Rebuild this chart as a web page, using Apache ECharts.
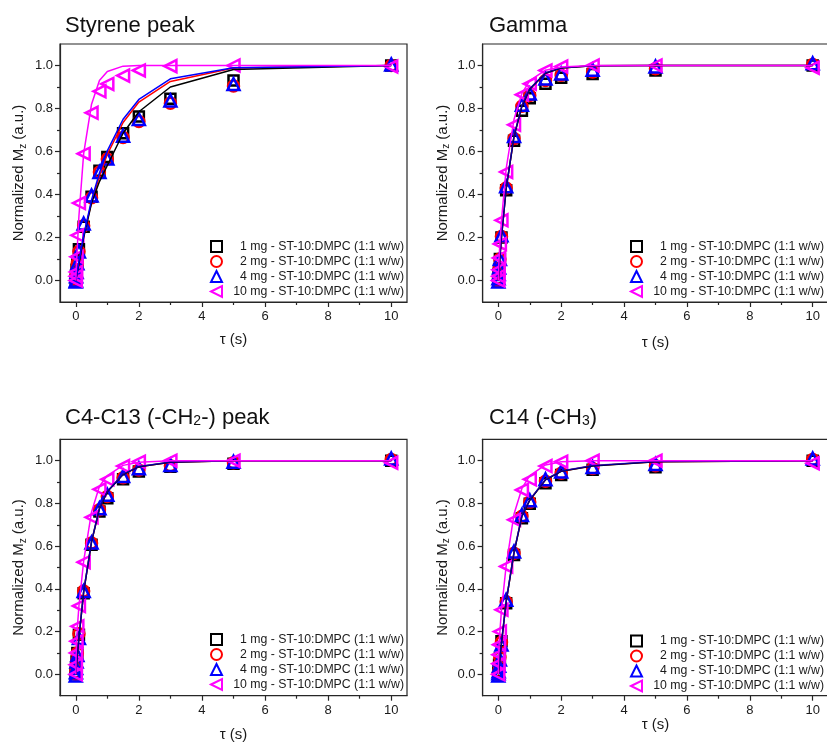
<!DOCTYPE html>
<html>
<head>
<meta charset="utf-8">
<script src="https://cdn.jsdelivr.net/npm/echarts@6/dist/echarts.min.js"></script>
<style>
  html, body { margin: 0; padding: 0; background: #ffffff; }
  #chart { width: 827px; height: 743px; }
</style>
</head>
<body>
<div id="chart"></div>
<script>
// Recovery delay times (s), shared by every sample
const times = [0, 0.005, 0.01, 0.025, 0.05, 0.1, 0.25, 0.5, 0.75, 1, 1.5, 2, 3, 5, 10];

// Legend labels for the four samples
const sampleNames = [
  '1 mg - ST-10:DMPC (1:1 w/w)',
  '2 mg - ST-10:DMPC (1:1 w/w)',
  '4 mg - ST-10:DMPC (1:1 w/w)',
  '10 mg - ST-10:DMPC (1:1 w/w)'
];

// Axis ticks
const xMajorTicks = [0, 2, 4, 6, 8, 10];
const xMinorTicks = [1, 3, 5, 7, 9];
const yMajorTicks = [0, 0.2, 0.4, 0.6, 0.8, 1.0];
const yMinorTicks = [0.1, 0.3, 0.5, 0.7, 0.9];

// Styrene peak: measured normalized Mz
const styrene1mg  = [0.0, 0.01, 0.02, 0.05, 0.09, 0.145, 0.25, 0.39, 0.51, 0.575, 0.685, 0.763, 0.845, 0.93, 1.0];
const styrene2mg  = [0.0, 0.01, 0.02, 0.05, 0.08, 0.135, 0.255, 0.385, 0.505, 0.565, 0.665, 0.74, 0.825, 0.905, 1.0];
const styrene4mg  = [-0.005, 0.0, 0.02, 0.04, 0.08, 0.135, 0.265, 0.395, 0.505, 0.567, 0.673, 0.751, 0.837, 0.914, 1.005];
const styrene10mg = [0.0, 0.02, 0.04, 0.11, 0.21, 0.36, 0.59, 0.78, 0.88, 0.914, 0.953, 0.977, 0.997, 1.0, 0.995];
// Styrene peak: fitted recovery curves
const styreneFit1mg  = [0, 0.004, 0.008, 0.02, 0.04, 0.075, 0.2, 0.36, 0.46, 0.535, 0.685, 0.785, 0.9, 0.981, 1.0];
const styreneFit2mg  = [0, 0.004, 0.009, 0.022, 0.043, 0.085, 0.205, 0.365, 0.485, 0.587, 0.735, 0.83, 0.926, 0.988, 1.0];
const styreneFit4mg  = [0, 0.005, 0.009, 0.023, 0.045, 0.088, 0.21, 0.375, 0.5, 0.603, 0.75, 0.842, 0.938, 0.99, 1.0];
const styreneFit10mg = [0, 0.018, 0.035, 0.085, 0.16, 0.30, 0.59, 0.82, 0.93, 0.972, 0.997, 1.0, 1.0, 1.0, 1.0];

// Gamma: measured
const gamma1mg  = [0, 0.01, 0.03, 0.05, 0.1, 0.2, 0.42, 0.65, 0.79, 0.848, 0.915, 0.943, 0.961, 0.977, 1.0];
const gamma2mg  = [0, 0.01, 0.03, 0.055, 0.1, 0.205, 0.43, 0.66, 0.81, 0.86, 0.93, 0.955, 0.97, 0.985, 1.005];
const gamma4mg  = [-0.005, 0.01, 0.03, 0.06, 0.1, 0.21, 0.438, 0.672, 0.818, 0.87, 0.94, 0.963, 0.98, 0.995, 1.01];
const gamma10mg = [0, 0.02, 0.05, 0.105, 0.17, 0.28, 0.505, 0.724, 0.864, 0.915, 0.977, 0.995, 1.0, 1.0, 0.99];
// Gamma: fits
const gammaFit1mg  = [0, 0.011, 0.022, 0.054, 0.105, 0.2, 0.426, 0.67, 0.81, 0.89, 0.964, 0.988, 0.999, 1.0, 1.0];
const gammaFit2mg  = [0, 0.011, 0.022, 0.055, 0.106, 0.202, 0.428, 0.672, 0.812, 0.891, 0.965, 0.988, 0.999, 1.0, 1.0];
const gammaFit4mg  = [0, 0.011, 0.023, 0.056, 0.107, 0.203, 0.43, 0.674, 0.814, 0.892, 0.966, 0.989, 0.999, 1.0, 1.0];
const gammaFit10mg = [0, 0.02, 0.05, 0.105, 0.17, 0.28, 0.52, 0.75, 0.87, 0.93, 0.978, 0.993, 1.0, 1.0, 1.0];

// C4-C13 (-CH2-) peak: measured
const ch2_1mg  = [0, 0.01, 0.03, 0.06, 0.1, 0.185, 0.38, 0.606, 0.762, 0.824, 0.913, 0.949, 0.972, 0.985, 1.0];
const ch2_2mg  = [0, 0.01, 0.03, 0.06, 0.1, 0.19, 0.39, 0.615, 0.77, 0.832, 0.92, 0.956, 0.976, 0.99, 1.005];
const ch2_4mg  = [-0.005, 0.01, 0.03, 0.06, 0.09, 0.17, 0.39, 0.617, 0.777, 0.84, 0.928, 0.964, 0.98, 0.995, 1.01];
const ch2_10mg = [0, 0.045, 0.1, 0.155, 0.225, 0.32, 0.525, 0.735, 0.866, 0.913, 0.975, 0.995, 1.0, 1.0, 0.99];
// C4-C13: fits
const ch2Fit1mg  = [0, 0.009, 0.018, 0.045, 0.088, 0.17, 0.385, 0.62, 0.775, 0.855, 0.935, 0.972, 0.993, 1.0, 1.0];
const ch2Fit2mg  = [0, 0.009, 0.018, 0.046, 0.089, 0.171, 0.386, 0.621, 0.776, 0.856, 0.936, 0.972, 0.993, 1.0, 1.0];
const ch2Fit4mg  = [0, 0.009, 0.019, 0.046, 0.09, 0.172, 0.388, 0.623, 0.778, 0.857, 0.937, 0.973, 0.994, 1.0, 1.0];
const ch2Fit10mg = [0, 0.04, 0.09, 0.15, 0.22, 0.32, 0.53, 0.76, 0.88, 0.93, 0.978, 0.993, 1.0, 1.0, 1.0];

// C14 (-CH3): measured
const ch3_1mg  = [0, 0.005, 0.015, 0.045, 0.077, 0.155, 0.333, 0.559, 0.731, 0.798, 0.894, 0.933, 0.957, 0.969, 1.0];
const ch3_2mg  = [0, 0.005, 0.015, 0.045, 0.08, 0.15, 0.34, 0.567, 0.74, 0.806, 0.904, 0.941, 0.963, 0.976, 1.005];
const ch3_4mg  = [-0.005, 0.005, 0.015, 0.04, 0.07, 0.14, 0.349, 0.575, 0.746, 0.815, 0.913, 0.949, 0.97, 0.984, 1.01];
const ch3_10mg = [0, 0.05, 0.092, 0.139, 0.2, 0.302, 0.505, 0.723, 0.863, 0.913, 0.975, 0.995, 1.0, 1.0, 0.988];
// C14: fits
const ch3Fit1mg  = [0, 0.007, 0.015, 0.037, 0.073, 0.145, 0.34, 0.57, 0.74, 0.815, 0.91, 0.95, 0.975, 0.995, 1.0];
const ch3Fit2mg  = [0, 0.007, 0.015, 0.037, 0.074, 0.146, 0.341, 0.571, 0.741, 0.816, 0.911, 0.951, 0.976, 0.995, 1.0];
const ch3Fit4mg  = [0, 0.008, 0.016, 0.038, 0.075, 0.147, 0.343, 0.573, 0.743, 0.817, 0.912, 0.952, 0.977, 0.996, 1.0];
const ch3Fit10mg = [0, 0.05, 0.09, 0.14, 0.2, 0.3, 0.51, 0.75, 0.87, 0.93, 0.98, 0.995, 1.0, 1.0, 1.0];

const FONT = '"Liberation Sans", Arial, sans-serif';
const INK = '#1a1a1a';
const sampleColors = ['#000000', '#ff0000', '#0000ff', '#ff00ff'];
const sampleSymbols = [
  { symbol: 'rect', size: 10 },
  { symbol: 'circle', size: 11 },
  { symbol: 'triangle', size: 12 },
  { symbol: 'path://M0,5L10,0L10,10Z', size: 12 }
];
// drawing order of the fit lines: red under black, blue on top, magenta last
const fitZ = [5.1, 5.0, 5.2, 5.3];

// Layout of the four panels
const panels = [
  {
    title: 'Styrene peak',
    titlePos: { left: 65, top: 15 },
    grid: { left: 60, right: 420, top: 44, bottom: 441 },
    measured: [styrene1mg, styrene2mg, styrene4mg, styrene10mg],
    fits: [styreneFit1mg, styreneFit2mg, styreneFit4mg, styreneFit10mg],
    blueFitOpacity: 1,
    legendPos: { left: 210, top: 240 },
    xNameGap: 30, yNameGap: 32
  },
  {
    title: 'Gamma',
    titlePos: { left: 489, top: 15 },
    grid: { left: 482.6, right: -1.4, top: 44, bottom: 441 },
    measured: [gamma1mg, gamma2mg, gamma4mg, gamma10mg],
    fits: [gammaFit1mg, gammaFit2mg, gammaFit4mg, gammaFit10mg],
    blueFitOpacity: 0.6,
    legendPos: { left: 630, top: 240 },
    xNameGap: 33, yNameGap: 31
  },
  {
    title: '{n|C4-C13 (-CH}{s|2}{n|-) peak}',
    titlePos: { left: 65, top: 407 },
    grid: { left: 60, right: 420, top: 439.3, bottom: 47.3 },
    measured: [ch2_1mg, ch2_2mg, ch2_4mg, ch2_10mg],
    fits: [ch2Fit1mg, ch2Fit2mg, ch2Fit4mg, ch2Fit10mg],
    blueFitOpacity: 0.6,
    legendPos: { left: 210, top: 633 },
    xNameGap: 32, yNameGap: 32
  },
  {
    title: '{n|C14 (-CH}{s|3}{n|)}',
    titlePos: { left: 489, top: 407 },
    grid: { left: 482.6, right: -1.4, top: 439.3, bottom: 47.3 },
    measured: [ch3_1mg, ch3_2mg, ch3_4mg, ch3_10mg],
    fits: [ch3Fit1mg, ch3Fit2mg, ch3Fit4mg, ch3Fit10mg],
    blueFitOpacity: 0.6,
    legendPos: { left: 630, top: 634.5 },
    xNameGap: 19, yNameGap: 31
  }
];

const axisLineStyle = { color: '#262626', width: 1.2 };

const option = {
  animation: false,
  textStyle: { fontFamily: FONT },
  title: [], grid: [], xAxis: [], yAxis: [], legend: [], series: []
};

panels.forEach((p, i) => {
  option.title.push({
    text: p.title,
    left: p.titlePos.left,
    top: p.titlePos.top,
    padding: 0,
    textStyle: {
      fontFamily: FONT, fontSize: 22, fontWeight: 'normal', color: '#111111',
      rich: {
        n: { fontFamily: FONT, fontSize: 22, color: '#111111' },
        s: { fontFamily: FONT, fontSize: 14, color: '#111111', verticalAlign: 'bottom', padding: [0, 0, 1, 0] }
      }
    }
  });

  option.grid.push(Object.assign({
    show: true, borderColor: '#262626', borderWidth: 1.2,
    backgroundColor: 'rgba(0,0,0,0)', containLabel: false, outerBoundsMode: 'none'
  }, p.grid));

  // main x axis (labels + major ticks) and a second one carrying the minor ticks
  option.xAxis.push({
    gridIndex: i, type: 'value', min: -0.5, max: 10.5, position: 'bottom',
    axisLine: { show: true, onZero: false, lineStyle: axisLineStyle },
    axisTick: { show: true, inside: false, length: 5, customValues: xMajorTicks, lineStyle: axisLineStyle },
    axisLabel: { customValues: xMajorTicks, fontSize: 13, color: INK, margin: 8, formatter: v => String(v) },
    splitLine: { show: false },
    name: 'τ (s)', nameLocation: 'middle', nameGap: p.xNameGap,
    nameTextStyle: { fontSize: 15, color: INK, fontFamily: FONT }
  });
  option.xAxis.push({
    gridIndex: i, type: 'value', min: -0.5, max: 10.5, position: 'bottom',
    axisLine: { show: false, onZero: false },
    axisTick: { show: true, inside: false, length: 3, customValues: xMinorTicks, lineStyle: axisLineStyle },
    axisLabel: { show: false },
    splitLine: { show: false }
  });

  option.yAxis.push({
    gridIndex: i, type: 'value', min: -0.1, max: 1.1, position: 'left',
    axisLine: { show: true, onZero: false, lineStyle: axisLineStyle },
    axisTick: { show: true, inside: false, length: 5, customValues: yMajorTicks, lineStyle: axisLineStyle },
    axisLabel: { customValues: yMajorTicks, fontSize: 13, color: INK, margin: 7, formatter: v => v.toFixed(1) },
    splitLine: { show: false },
    name: '{a|Normalized M}{b|z}{a| (a.u.)}', nameLocation: 'middle', nameGap: p.yNameGap, nameRotate: 90,
    nameTextStyle: {
      color: INK,
      rich: {
        a: { fontFamily: FONT, fontSize: 15, color: INK, lineHeight: 18 },
        b: { fontFamily: FONT, fontSize: 10, color: INK, verticalAlign: 'bottom' }
      }
    }
  });
  option.yAxis.push({
    gridIndex: i, type: 'value', min: -0.1, max: 1.1, position: 'left',
    axisLine: { show: false, onZero: false },
    axisTick: { show: true, inside: false, length: 3, customValues: yMinorTicks, lineStyle: axisLineStyle },
    axisLabel: { show: false },
    splitLine: { show: false }
  });

  // measured points: open symbols
  p.measured.forEach((vals, k) => {
    option.series.push({
      type: 'scatter', name: sampleNames[k],
      xAxisIndex: 2 * i, yAxisIndex: 2 * i,
      data: times.map((t, j) => [t, vals[j]]),
      symbol: sampleSymbols[k].symbol, symbolSize: sampleSymbols[k].size,
      itemStyle: { color: 'rgba(0,0,0,0)', borderColor: sampleColors[k], borderWidth: 2.5, opacity: 1 },
      z: 3 + k * 0.1, silent: true, emphasis: { disabled: true }
    });
  });

  // fitted recovery curves
  p.fits.forEach((vals, k) => {
    option.series.push({
      type: 'line', name: 'fit ' + i + '-' + k,
      xAxisIndex: 2 * i, yAxisIndex: 2 * i,
      data: times.map((t, j) => [t, vals[j]]),
      symbol: 'none', showSymbol: false, smooth: false,
      lineStyle: { color: sampleColors[k], width: 1.5, opacity: k === 2 ? p.blueFitOpacity : 1 },
      z: fitZ[k], silent: true, emphasis: { disabled: true }
    });
  });

  option.legend.push({
    left: p.legendPos.left, top: p.legendPos.top,
    orient: 'vertical', padding: 0, itemGap: 2, itemWidth: 11, itemHeight: 11,
    selectedMode: false,
    data: sampleNames.map(n => ({ name: n })),
    formatter: n => '{t|' + n + '}',
    textStyle: {
      rich: { t: { fontFamily: FONT, fontSize: 12.3, lineHeight: 13, width: 177, align: 'right', color: INK } }
    }
  });
});

const chart = echarts.init(document.getElementById('chart'), null, { renderer: 'canvas' });
chart.setOption(option);
</script>
</body>
</html>
